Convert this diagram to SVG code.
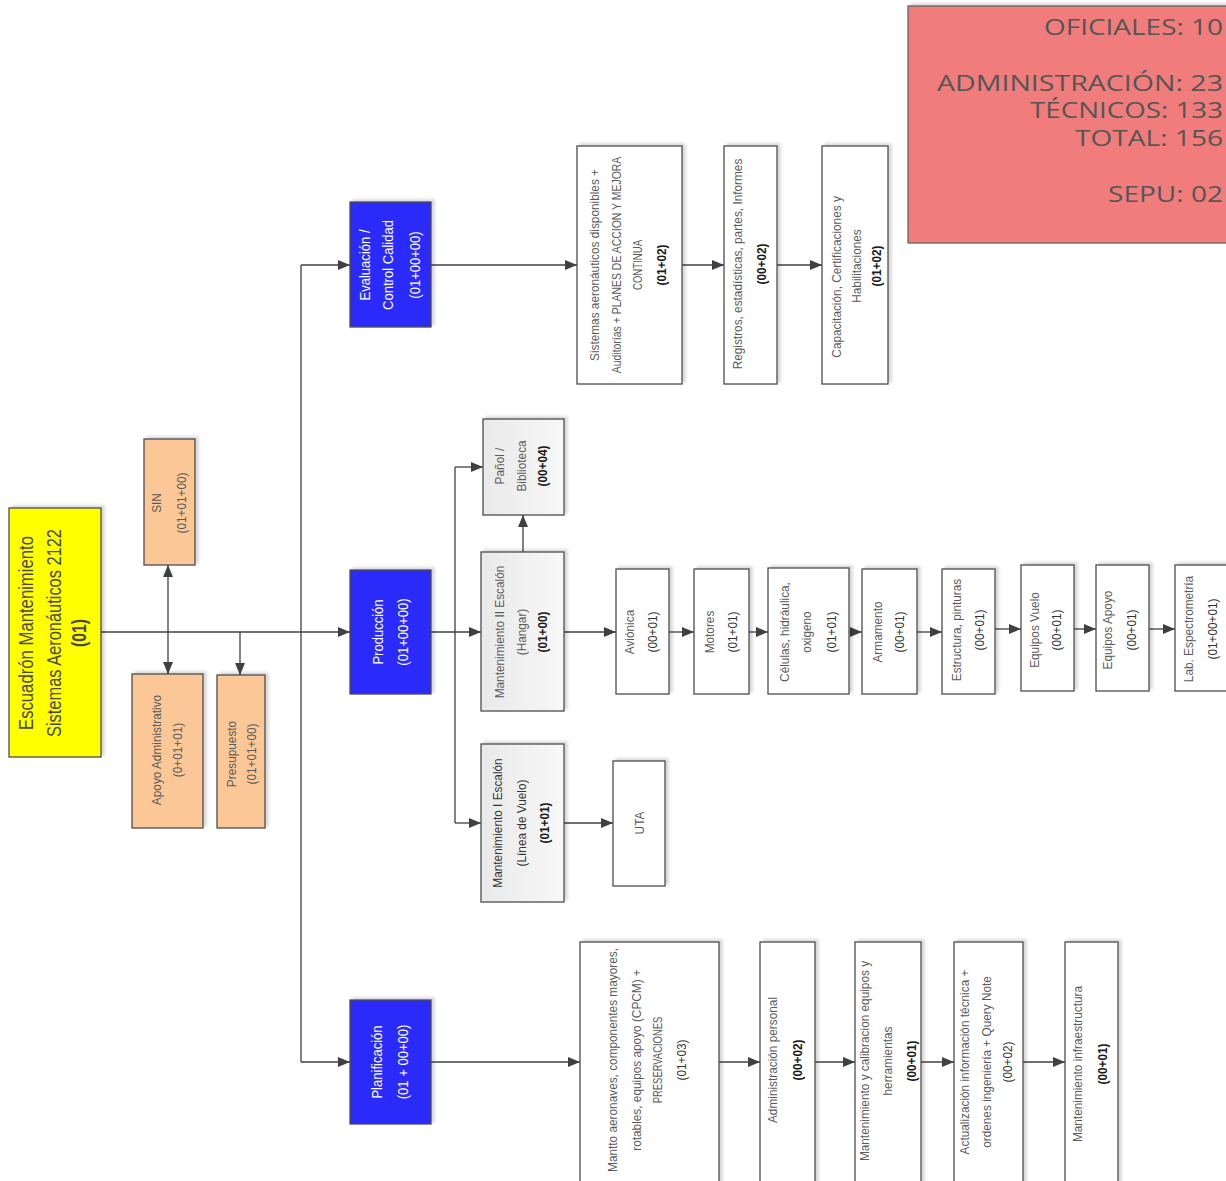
<svg xmlns="http://www.w3.org/2000/svg" width="1226" height="1181" viewBox="0 0 1226 1181">
  <defs>
    <marker id="arr" viewBox="0 0 12 10" refX="12" refY="5" markerWidth="12" markerHeight="10" markerUnits="userSpaceOnUse" orient="auto">
      <path d="M0,0 L12,5 L0,10 z" fill="#404040"/>
    </marker>
    <linearGradient id="grey" x1="0" y1="0" x2="1" y2="0">
      <stop offset="0" stop-color="#e9e9e9"/>
      <stop offset="1" stop-color="#f8f8f8"/>
    </linearGradient>
    <filter id="sh" x="-10%" y="-10%" width="130%" height="130%">
      <feDropShadow dx="3" dy="-2" stdDeviation="1.5" flood-color="#000" flood-opacity="0.16"/>
    </filter>
  </defs>
  <style>
    rect { stroke: #4d4d4d; stroke-width: 1.3; filter: url(#sh); }
    .white { fill: #ffffff; }
    .grey { fill: url(#grey); }
    .peach { fill: #fbc796; }
    .blue { fill: #2c2cfa; }
    .yellow { fill: #ffff00; }
    .red { fill: #f07b7b; stroke: #666; }
    text { font-family: "Liberation Sans", Arial, sans-serif; font-size: 13px; fill: #5a5a5a; text-anchor: middle; }
    .d { fill: #333; }
    .b { font-weight: bold; fill: #1a1a1a; }
    .hd { font-size: 14.5px; fill: #ffffff; }
    .root { font-size: 21px; fill: #4a4a4a; }
    .stats { font-family: "Open Sans", "Liberation Sans", sans-serif; font-size: 22px; font-weight: 500; fill: #555; text-anchor: end; }
    #connectors path { fill: none; stroke: #404040; stroke-width: 1.3; }
    #connectors .a { marker-end: url(#arr); }
  </style>

  <rect width="1226" height="1181" fill="#ffffff" style="stroke:none;filter:none"/>

  <!-- connectors -->
  <g id="connectors">
    <path d="M101,632 H301"/>
    <path d="M301,265 V1062"/>
    <path class="a" d="M301,265 H350"/>
    <path class="a" d="M301,632 H350"/>
    <path class="a" d="M301,1062 H350"/>
    <path class="a" d="M168,632 V565"/>
    <path class="a" d="M168,632 V674"/>
    <path class="a" d="M240,632 V675"/>
    <path class="a" d="M431,265 H577"/>
    <path class="a" d="M682,265 H724"/>
    <path class="a" d="M777,265 H822"/>
    <path class="a" d="M431,632 H481"/>
    <path d="M455,467 V823"/>
    <path class="a" d="M455,467 H483"/>
    <path class="a" d="M455,823 H481"/>
    <path class="a" d="M523,552 V515"/>
    <path class="a" d="M564,823 H613"/>
    <path class="a" d="M564,632 H616"/>
    <path class="a" d="M669,632 H694"/>
    <path class="a" d="M749,632 H768"/>
    <path class="a" d="M849,632 H862"/>
    <path class="a" d="M917,632 H942"/>
    <path class="a" d="M995,629 H1021"/>
    <path class="a" d="M1074,629 H1096"/>
    <path class="a" d="M1149,629 H1175"/>
    <path class="a" d="M431,1062 H580"/>
    <path class="a" d="M719,1062 H760"/>
    <path class="a" d="M815,1062 H855"/>
    <path class="a" d="M921,1062 H954"/>
    <path class="a" d="M1023,1062 H1065"/>
  </g>

  <!-- staff totals -->
  <g id="totales">
    <rect class="red" x="908" y="6" width="330" height="237"/>
    <text class="stats" x="1223" y="35" textLength="179" lengthAdjust="spacingAndGlyphs">OFICIALES: 10</text>
    <text class="stats" x="1223" y="91" textLength="286" lengthAdjust="spacingAndGlyphs">ADMINISTRACIÓN: 23</text>
    <text class="stats" x="1223" y="118" textLength="193" lengthAdjust="spacingAndGlyphs">TÉCNICOS: 133</text>
    <text class="stats" x="1223" y="146" textLength="148" lengthAdjust="spacingAndGlyphs">TOTAL: 156</text>
    <text class="stats" x="1223" y="202" textLength="115" lengthAdjust="spacingAndGlyphs">SEPU: 02</text>
  </g>

  <!-- root -->
  <g id="escuadron">
    <rect class="yellow" x="9" y="508" width="92" height="249"/>
    <text class="root" transform="translate(0 633) rotate(-90)" x="0" y="33" textLength="194" lengthAdjust="spacingAndGlyphs">Escuadrón Mantenimiento</text>
    <text class="root" transform="translate(0 633) rotate(-90)" x="0" y="61" textLength="208" lengthAdjust="spacingAndGlyphs">Sistemas Aeronáuticos 2122</text>
    <text class="root b" transform="translate(0 633) rotate(-90)" x="0" y="86" textLength="28" lengthAdjust="spacingAndGlyphs">(01)</text>
  </g>

  <!-- staff units -->
  <g id="sin">
    <rect class="peach" x="144" y="439" width="51" height="126"/>
    <text transform="translate(0 503) rotate(-90) scale(0.91 1)"><tspan x="0" y="161.5">SIN</tspan><tspan x="0" y="186.5">(01+01+00)</tspan></text>
  </g>
  <g id="apoyo-administrativo">
    <rect class="peach" x="132" y="674" width="71" height="154"/>
    <text transform="translate(0 750) rotate(-90) scale(0.91 1)"><tspan x="0" y="161.5">Apoyo Administrativo</tspan><tspan x="0" y="182.5">(0+01+01)</tspan></text>
  </g>
  <g id="presupuesto">
    <rect class="peach" x="217" y="675" width="48" height="153"/>
    <text transform="translate(0 754) rotate(-90) scale(0.91 1)"><tspan x="0" y="236.5">Presupuesto</tspan><tspan x="0" y="256.5">(01+01+00)</tspan></text>
  </g>

  <!-- departments -->
  <g id="evaluacion">
    <rect class="blue" x="350" y="202" width="81" height="125"/>
    <text class="hd" transform="translate(0 265) rotate(-90) scale(0.9 1)"><tspan x="0" y="370">Evaluación /</tspan><tspan x="0" y="393">Control Calidad</tspan><tspan x="0" y="420">(01+00+00)</tspan></text>
  </g>
  <g id="produccion">
    <rect class="blue" x="350" y="570" width="81" height="124"/>
    <text class="hd" transform="translate(0 632) rotate(-90) scale(0.9 1)"><tspan x="0" y="383">Producción</tspan><tspan x="0" y="408">(01+00+00)</tspan></text>
  </g>
  <g id="planificacion">
    <rect class="blue" x="350" y="1000" width="81" height="124"/>
    <text class="hd" transform="translate(0 1062) rotate(-90) scale(0.9 1)"><tspan x="0" y="382">Planificación</tspan><tspan x="0" y="408">(01 + 00+00)</tspan></text>
  </g>

  <!-- quality chain -->
  <g id="sistemas-auditorias">
    <rect class="white" x="577" y="146" width="105" height="238"/>
    <text transform="translate(0 265) rotate(-90) scale(0.91 1)"><tspan x="0" y="599.5">Sistemas aeronáuticos disponibles +</tspan><tspan x="0" y="621.5" textLength="238" lengthAdjust="spacingAndGlyphs">Auditorías + PLANES DE ACCION Y MEJORA</tspan><tspan x="0" y="642.5" textLength="55" lengthAdjust="spacingAndGlyphs">CONTINUA</tspan><tspan class="b" x="0" y="666.5">(01+02)</tspan></text>
  </g>
  <g id="registros">
    <rect class="white" x="724" y="146" width="53" height="238"/>
    <text transform="translate(0 264) rotate(-90) scale(0.91 1)"><tspan x="0" y="742.5">Registros, estadísticas, partes, Informes</tspan><tspan class="b" x="0" y="766.5">(00+02)</tspan></text>
  </g>
  <g id="capacitacion">
    <rect class="white" x="822" y="146" width="66" height="238"/>
    <text transform="translate(0 266) rotate(-90) scale(0.91 1)"><tspan x="-12" y="841.5">Capacitación, Certificaciones y</tspan><tspan x="0" y="861.5">Habilitaciones</tspan><tspan class="b" x="0" y="881.5">(01+02)</tspan></text>
  </g>

  <!-- production chain -->
  <g id="panol-biblioteca">
    <rect class="grey" x="483" y="419" width="81" height="96"/>
    <text transform="translate(0 466) rotate(-90) scale(0.91 1)"><tspan x="0" y="504.5">Pañol /</tspan><tspan x="0" y="526.5">Biblioteca</tspan><tspan class="b" x="0" y="547.5">(00+04)</tspan></text>
  </g>
  <g id="mant-ii-escalon">
    <rect class="grey" x="481" y="552" width="83" height="159"/>
    <text transform="translate(0 632) rotate(-90) scale(0.91 1)"><tspan x="0" y="504.5">Mantenimiento II Escalón</tspan><tspan x="0" y="526.5">(Hangar)</tspan><tspan class="b" x="0" y="547.5">(01+00)</tspan></text>
  </g>
  <g id="mant-i-escalon">
    <rect class="grey" x="481" y="744" width="83" height="158"/>
    <text transform="translate(0 823) rotate(-90) scale(0.91 1)"><tspan x="0" y="502.5" class="d">Mantenimiento I Escalón</tspan><tspan x="0" y="526.5" class="d">(Línea de Vuelo)</tspan><tspan class="b" x="0" y="549.5">(01+01)</tspan></text>
  </g>
  <g id="uta">
    <rect class="white" x="613" y="761" width="52" height="125"/>
    <text transform="translate(0 823) rotate(-90) scale(0.91 1)"><tspan x="0" y="644.5">UTA</tspan></text>
  </g>
  <g id="avionica">
    <rect class="white" x="616" y="569" width="53" height="125"/>
    <text transform="translate(0 632) rotate(-90) scale(0.91 1)"><tspan x="0" y="634.5">Aviónica</tspan><tspan class="d" x="0" y="657.5">(00+01)</tspan></text>
  </g>
  <g id="motores">
    <rect class="white" x="694" y="569" width="55" height="125"/>
    <text transform="translate(0 632) rotate(-90) scale(0.91 1)"><tspan x="0" y="714.5">Motores</tspan><tspan class="d" x="0" y="737.5">(01+01)</tspan></text>
  </g>
  <g id="celulas">
    <rect class="white" x="768" y="568" width="81" height="126"/>
    <text transform="translate(0 632) rotate(-90) scale(0.91 1)"><tspan x="0" y="789.5">Células, hidráulica,</tspan><tspan x="0" y="811.5">oxigeno</tspan><tspan class="d" x="0" y="836.5">(01+01)</tspan></text>
  </g>
  <g id="armamento">
    <rect class="white" x="862" y="569" width="55" height="125"/>
    <text transform="translate(0 632) rotate(-90) scale(0.91 1)"><tspan x="0" y="882.5">Armamento</tspan><tspan class="d" x="0" y="904.5">(00+01)</tspan></text>
  </g>
  <g id="estructura">
    <rect class="white" x="942" y="569" width="53" height="125"/>
    <text transform="translate(0 630) rotate(-90) scale(0.91 1)"><tspan x="0" y="961.5">Estructura, pinturas</tspan><tspan class="d" x="0" y="984.5">(00+01)</tspan></text>
  </g>
  <g id="equipos-vuelo">
    <rect class="white" x="1021" y="565" width="53" height="126"/>
    <text transform="translate(0 630) rotate(-90) scale(0.91 1)"><tspan x="0" y="1039.5">Equipos Vuelo</tspan><tspan class="d" x="0" y="1061.5">(00+01)</tspan></text>
  </g>
  <g id="equipos-apoyo">
    <rect class="white" x="1096" y="565" width="53" height="126"/>
    <text transform="translate(0 630) rotate(-90) scale(0.91 1)"><tspan x="0" y="1112.5">Equipos Apoyo</tspan><tspan class="d" x="0" y="1136.5">(00+01)</tspan></text>
  </g>
  <g id="lab-espectrometria">
    <rect class="white" x="1175" y="565" width="60" height="126"/>
    <text transform="translate(0 629) rotate(-90) scale(0.91 1)"><tspan x="0" y="1193.5">Lab. Espectrometría</tspan><tspan class="d" x="0" y="1217.5">(01+00+01)</tspan></text>
  </g>

  <!-- planning chain -->
  <g id="mantto-aeronaves">
    <rect class="white" x="580" y="942" width="139" height="245"/>
    <text transform="translate(0 1060) rotate(-90) scale(0.91 1)"><tspan x="0" y="617.5">Mantto aeronaves, componentes mayores,</tspan><tspan x="0" y="641.5">rotables, equipos apoyo (CPCM) +</tspan><tspan x="0" y="662.5" textLength="95" lengthAdjust="spacingAndGlyphs">PRESERVACIONES</tspan><tspan class="d" x="0" y="686.5">(01+03)</tspan></text>
  </g>
  <g id="administracion-personal">
    <rect class="white" x="760" y="942" width="55" height="245"/>
    <text transform="translate(0 1060) rotate(-90) scale(0.91 1)"><tspan x="0" y="777.5">Administración personal</tspan><tspan class="b" x="0" y="802.5">(00+02)</tspan></text>
  </g>
  <g id="calibracion">
    <rect class="white" x="855" y="942" width="66" height="245"/>
    <text transform="translate(0 1061) rotate(-90) scale(0.91 1)"><tspan x="0" y="869.5">Mantenimiento y calibracion equipos y</tspan><tspan x="0" y="892.5">herramientas</tspan><tspan class="b" x="0" y="916.5">(00+01)</tspan></text>
  </g>
  <g id="actualizacion-informacion">
    <rect class="white" x="954" y="942" width="69" height="245"/>
    <text transform="translate(0 1062) rotate(-90) scale(0.91 1)"><tspan x="0" y="969.5">Actualización información técnica +</tspan><tspan x="0" y="991.5">ordenes ingeniería + Query Note</tspan><tspan class="d" x="0" y="1012.5">(00+02)</tspan></text>
  </g>
  <g id="mant-infraestructura">
    <rect class="white" x="1065" y="942" width="53" height="245"/>
    <text transform="translate(0 1064) rotate(-90) scale(0.91 1)"><tspan x="0" y="1082.5">Mantenimiento infraestructura</tspan><tspan class="b" x="0" y="1107.5">(00+01)</tspan></text>
  </g>
</svg>
